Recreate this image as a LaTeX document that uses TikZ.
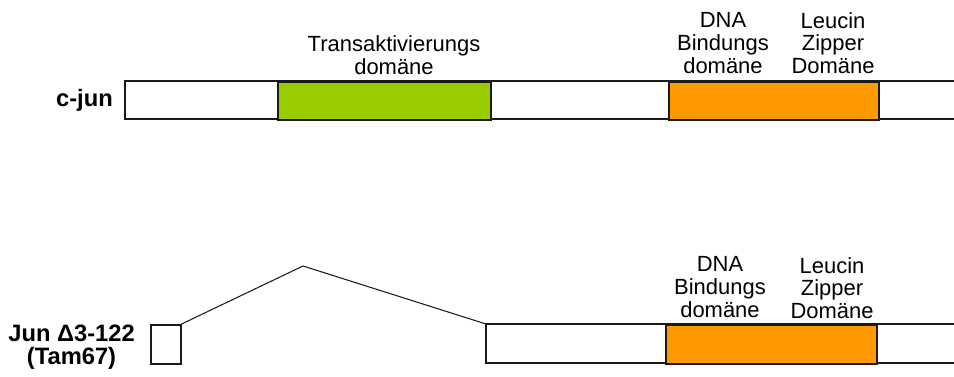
\documentclass[tikz,border=0pt]{standalone}
\usepackage{fontspec}
\setmainfont{Liberation Sans}
\usetikzlibrary{positioning}
\definecolor{transgruen}{HTML}{99CC00}
\definecolor{bindorange}{HTML}{FF9900}
\definecolor{rand}{HTML}{1A1A1A}

\begin{document}
\begin{tikzpicture}[x=0.02cm, y=-0.02cm,
    rahmen/.style={draw=rand, line width=0.9pt},
    domaene/.style={rahmen, inner sep=0pt, minimum height=0.77cm, anchor=north west},
    beschrift/.style={align=center, font=\fontsize{12.5}{13}\selectfont},
    genname/.style={align=center, font=\fontsize{13.5}{13}\selectfont\bfseries}]
  \useasboundingbox (0,0) rectangle (954,376);

  % c-jun (vollständig)
  \draw[rahmen] (954,81) -| (125,119) -- (954,119);
  \node[domaene, fill=transgruen, minimum width=4.26cm] (trans) at (277,81) {};
  \node[domaene, fill=bindorange, minimum width=4.2cm] (bzip) at (668,81) {};
  \node[genname, anchor=east] (cjun) at (119,100) {c-jun};
  \node[beschrift] (transtxt) at (394,55) {Transaktivierungs\\domäne};
  \node[beschrift] (dnatxt) at (723,43) {DNA\\Bindungs\\domäne};
  \node[beschrift] (leutxt) at (833,43) {Leucin\\Zipper\\Domäne};

  % Jun Delta3-122 (Tam67)
  \node[rahmen, inner sep=0pt, minimum width=0.6cm, minimum height=0.78cm,
        anchor=north west] (exon) at (150,324) {};
  \coordinate (rest) at (486,324);
  \coordinate (spleiss) at (303,266);
  \draw[rahmen] (954,324) -| (486,363) -- (954,363);
  \node[domaene, fill=bindorange, minimum width=4.22cm, minimum height=0.78cm] (bzipkurz) at (665,324) {};
  \draw[draw=rand, line width=0.6pt] (exon.north east) -- (spleiss) -- (rest);
  \node[genname, anchor=east] (tam) at (141,347) {Jun Δ3-122\\(Tam67)};
  \node[beschrift] (dnatxtkurz) at (720,287) {DNA\\Bindungs\\domäne};
  \node[beschrift] (leutxtkurz) at (832,288) {Leucin\\Zipper\\Domäne};
\end{tikzpicture}
\end{document}
